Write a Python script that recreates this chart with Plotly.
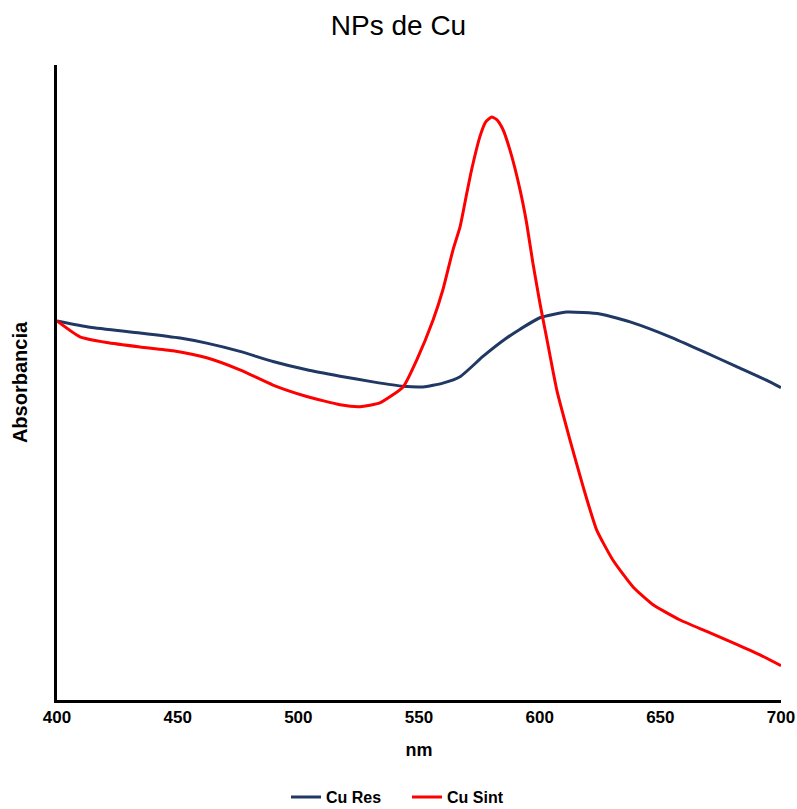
import plotly.graph_objects as go

# Cu Res (blue) spectrum
res_nm = [400, 413.7, 434.4, 451.0, 462.0, 475.8, 489.5, 503.5, 517.3, 530.9, 543.4,
          551.7, 559.9, 567.0, 576.5, 586.3, 591.9, 600.1, 611.2, 625.0, 638.7, 654.0,
          667.7, 681.6, 695.4, 700]
res_abs = [0.597, 0.587, 0.578, 0.570, 0.562, 0.549, 0.533, 0.520, 0.510, 0.501, 0.494,
           0.493, 0.499, 0.509, 0.541, 0.570, 0.584, 0.602, 0.611, 0.608, 0.594, 0.572,
           0.549, 0.525, 0.501, 0.492]

# Cu Sint (red) spectrum
sint_nm = [400, 409.5, 420.6, 434.4, 448.1, 462.0, 475.8, 489.5, 503.5, 517.3, 525.6,
           533.8, 543.4, 549.0, 555.8, 559.9, 564.1, 567.0, 569.8, 571.8, 575.3, 577.6,
           580.1, 582.2, 584.6, 587.7, 591.9, 594.6, 597.2, 600.1, 602.9, 607.1, 612.6,
           618.0, 623.6, 630.4, 638.7, 647.0, 658.2, 669.2, 680.2, 691.3, 700]
sint_abs = [0.597, 0.572, 0.563, 0.556, 0.550, 0.539, 0.520, 0.496, 0.478, 0.465, 0.462,
            0.468, 0.493, 0.535, 0.598, 0.646, 0.709, 0.745, 0.798, 0.835, 0.888, 0.910,
            0.918, 0.914, 0.900, 0.866, 0.803, 0.751, 0.688, 0.625, 0.570, 0.488, 0.409,
            0.336, 0.268, 0.220, 0.178, 0.150, 0.126, 0.108, 0.090, 0.071, 0.054]

x_ticks = [400, 450, 500, 550, 600, 650, 700]

FONT = "Liberation Sans, Arial, sans-serif"

fig = go.Figure()
fig.add_trace(go.Scatter(x=res_nm, y=res_abs, mode="lines", name="Cu Res",
                         line=dict(color="#203864", width=3, shape="spline", smoothing=0.5)))
fig.add_trace(go.Scatter(x=sint_nm, y=sint_abs, mode="lines", name="Cu Sint",
                         line=dict(color="#FF0000", width=3, shape="spline", smoothing=0.5)))

fig.update_layout(
    width=797, height=809,
    margin=dict(l=57, r=16, t=65, b=109, autoexpand=False),
    paper_bgcolor="white", plot_bgcolor="white",
    title=dict(text="NPs de Cu", x=0.5, xref="container", xanchor="center",
               y=1 - 25 / 809, yanchor="middle",
               font=dict(family=FONT, size=28, color="#000000")),
    font=dict(family=FONT, color="#000000"),
    showlegend=True,
    legend=dict(orientation="h", x=(286 - 57) / 724, xanchor="left", y=-0.153,
                yanchor="middle",
                font=dict(family=FONT, size=16, color="#000000", weight="bold"),
                entrywidth=76, entrywidthmode="pixels",
                itemwidth=30, tracegroupgap=0),
    xaxis=dict(range=[400, 700], tickvals=x_ticks, ticks="", showgrid=False,
               zeroline=False, showline=True, linecolor="#000000", linewidth=2.5,
               automargin=False,
               tickfont=dict(family=FONT, size=17, color="#000000", weight="bold"),
               title=dict(text="nm", standoff=18,
                          font=dict(family=FONT, size=18, color="#000000", weight="bold"))),
    yaxis=dict(range=[0, 1.0], showticklabels=False, ticks="", showgrid=False,
               zeroline=False, showline=True, linecolor="#000000", linewidth=2.5,
               automargin=False,
               title=dict(text="Absorbancia", standoff=22,
                          font=dict(family=FONT, size=20, color="#000000", weight="bold"))),
)

fig.write_html("out.html")
